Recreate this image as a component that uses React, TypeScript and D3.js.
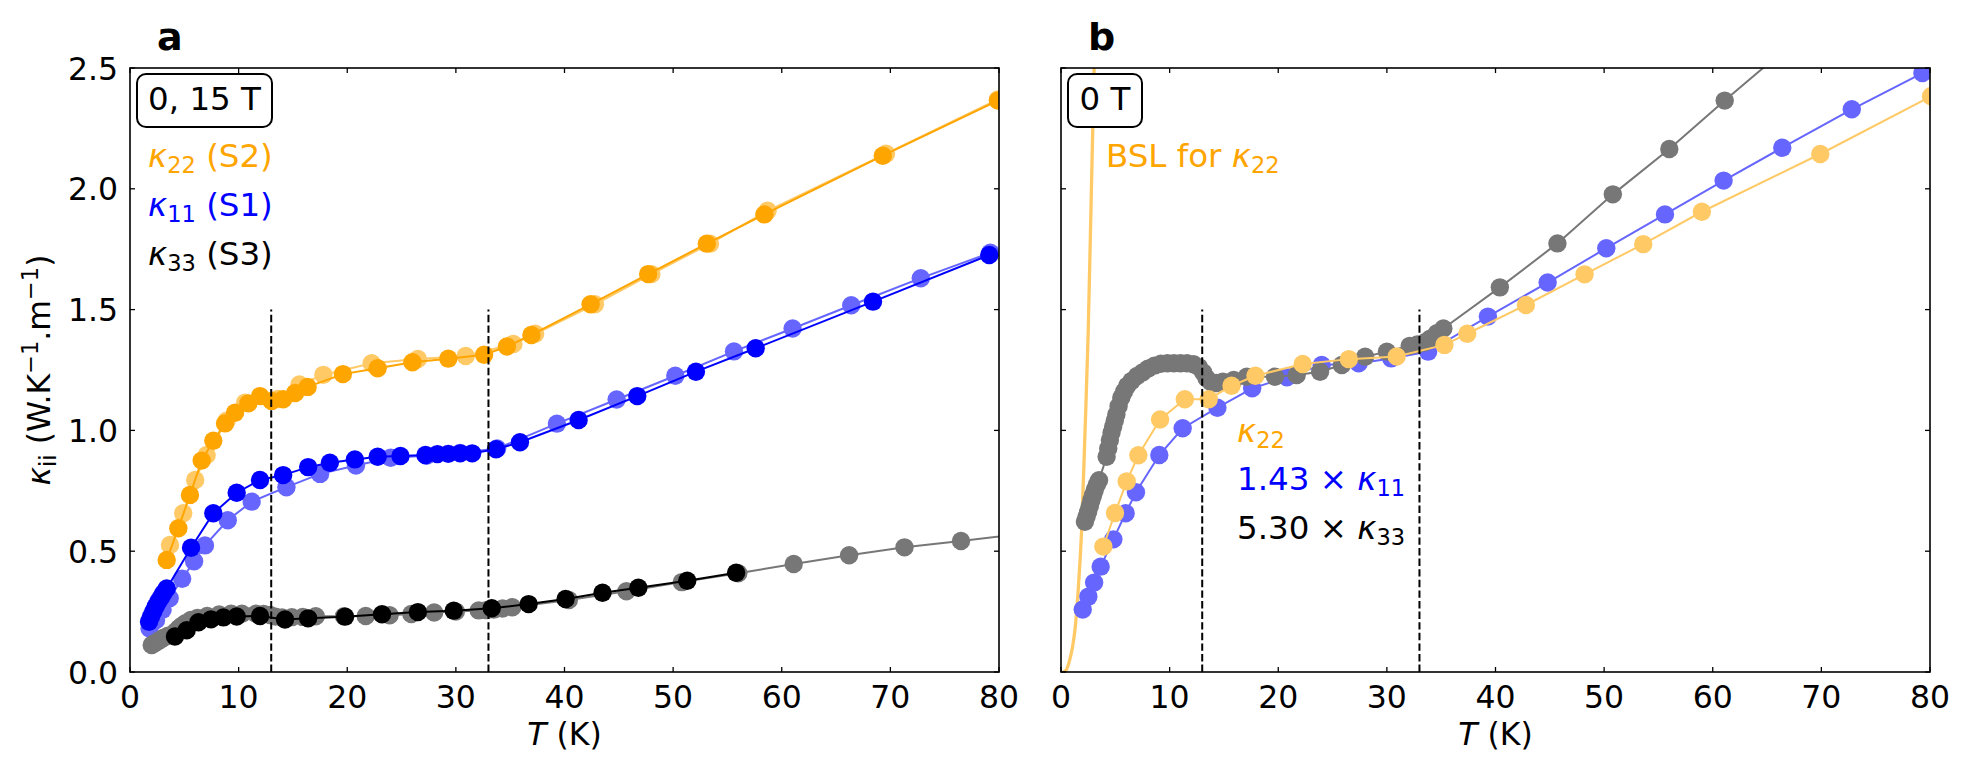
import React from "react";
import * as d3 from "d3";

// ---- panel a : 15 T (dark) and 0 T (light) ----
const a22_15T_T = [3.38, 4.45, 5.52, 6.6, 7.67, 8.75, 9.67, 10.9, 11.97, 13.04, 14.1, 15.2, 16.35, 19.6, 22.8, 26.0, 29.3, 32.6, 34.7, 36.95, 42.4, 47.7, 53.1, 58.4, 69.3, 79.9];
const a22_15T_k = [0.464, 0.595, 0.733, 0.875, 0.957, 1.029, 1.073, 1.112, 1.142, 1.122, 1.129, 1.155, 1.18, 1.233, 1.257, 1.282, 1.297, 1.313, 1.347, 1.395, 1.522, 1.647, 1.773, 1.894, 2.137, 2.365];

const a22_0T_T = [3.68, 4.9, 6.0, 7.06, 8.9, 10.6, 13.6, 15.6, 17.8, 22.25, 26.5, 30.9, 35.3, 37.3, 42.8, 48.0, 53.4, 58.7, 69.6, 79.9];
const a22_0T_k = [0.526, 0.657, 0.795, 0.898, 1.04, 1.115, 1.13, 1.19, 1.23, 1.278, 1.296, 1.308, 1.358, 1.4, 1.522, 1.647, 1.773, 1.909, 2.145, 2.37];

const a11_15T_T = [1.75, 1.93, 2.14, 2.35, 2.6, 2.85, 3.07, 3.38, 5.62, 7.67, 9.82, 11.97, 14.1, 16.4, 18.4, 20.7, 22.8, 24.9, 27.2, 28.3, 29.3, 30.4, 31.5, 33.7, 35.9, 41.3, 46.7, 52.1, 57.6, 68.4, 79.1];
const a11_15T_k = [0.208, 0.229, 0.249, 0.27, 0.291, 0.308, 0.326, 0.346, 0.514, 0.657, 0.742, 0.795, 0.815, 0.848, 0.866, 0.88, 0.891, 0.894, 0.898, 0.902, 0.903, 0.905, 0.905, 0.922, 0.951, 1.043, 1.142, 1.243, 1.34, 1.533, 1.726];

const a11_0T_T = [1.8, 2.4, 3.0, 3.65, 4.8, 5.9, 6.9, 9.0, 11.2, 14.4, 17.5, 20.8, 24.0, 27.3, 30.4, 33.8, 39.3, 44.8, 50.2, 55.6, 61.0, 66.4, 72.8, 79.2];
const a11_0T_k = [0.18, 0.215, 0.258, 0.305, 0.386, 0.458, 0.524, 0.628, 0.705, 0.765, 0.82, 0.855, 0.887, 0.895, 0.907, 0.925, 1.028, 1.128, 1.226, 1.327, 1.422, 1.518, 1.63, 1.735];

const a33_15T_T = [4.14, 5.22, 6.3, 7.46, 8.6, 9.82, 11.97, 14.27, 16.4, 19.8, 23.2, 26.5, 29.8, 33.3, 36.7, 40.1, 43.5, 46.8, 51.3, 55.8];
const a33_15T_k = [0.147, 0.173, 0.206, 0.218, 0.226, 0.23, 0.232, 0.217, 0.222, 0.229, 0.239, 0.248, 0.254, 0.264, 0.281, 0.302, 0.328, 0.349, 0.378, 0.411];

const a33_0T_T = [2.0, 2.2, 2.5, 2.8, 3.1, 3.5, 4.2, 4.5, 4.8, 5.1, 5.6, 6.2, 7.1, 8.2, 9.3, 10.3, 11.6, 12.3, 12.9, 13.4, 14.0, 14.9, 15.9, 17.1, 19.7, 21.7, 23.9, 25.9, 28.0, 30.0, 32.1, 32.8, 33.5, 34.3, 35.2, 40.4, 45.7, 50.8, 56.0, 61.1, 66.2, 71.3, 76.5, 81.6];
const a33_0T_k = [0.112, 0.117, 0.125, 0.134, 0.142, 0.15, 0.168, 0.181, 0.192, 0.202, 0.215, 0.224, 0.232, 0.238, 0.241, 0.241, 0.241, 0.24, 0.236, 0.229, 0.226, 0.227, 0.228, 0.231, 0.231, 0.232, 0.235, 0.24, 0.246, 0.25, 0.255, 0.256, 0.258, 0.263, 0.268, 0.298, 0.334, 0.372, 0.409, 0.447, 0.483, 0.516, 0.542, 0.57];

// ---- panel b : 0 T, scaled ----
const b22_T = [3.9, 4.97, 6.05, 7.12, 9.12, 11.4, 13.6, 15.7, 17.9, 22.25, 26.5, 30.9, 35.3, 37.4, 42.8, 48.2, 53.6, 59.0, 69.9, 80.1];
const b22_k = [0.519, 0.658, 0.789, 0.897, 1.045, 1.129, 1.129, 1.185, 1.226, 1.275, 1.295, 1.306, 1.354, 1.4, 1.519, 1.646, 1.771, 1.905, 2.144, 2.383];

const b11_T = [2.0, 2.52, 3.05, 3.65, 4.82, 5.95, 6.9, 9.05, 11.2, 14.4, 17.6, 20.8, 24.0, 27.4, 30.4, 33.8, 39.3, 44.8, 50.2, 55.6, 61.0, 66.4, 72.8, 79.3];
const b11_k = [0.259, 0.312, 0.37, 0.436, 0.549, 0.657, 0.744, 0.898, 1.009, 1.094, 1.174, 1.22, 1.271, 1.278, 1.298, 1.326, 1.471, 1.612, 1.754, 1.894, 2.034, 2.17, 2.329, 2.479];

const b33_T = [2.2, 2.35, 2.5, 2.65, 2.8, 2.95, 3.1, 3.3, 3.5, 4.2, 4.35, 4.5, 4.65, 4.8, 4.95, 5.1, 5.3, 5.55, 5.8, 6.1, 6.5, 7.0, 7.5, 8.0, 8.6, 9.2, 9.8, 10.4, 11.0, 11.6, 12.2, 12.7, 13.1, 13.4, 13.8, 14.3, 14.9, 15.9, 17.1, 19.7, 21.7, 23.85, 25.85, 28.0, 30.0, 32.1, 32.8, 33.5, 34.0, 34.6, 35.2, 40.4, 45.7, 50.8, 56.0, 61.1, 66.2];
const b33_k = [0.622, 0.643, 0.663, 0.687, 0.711, 0.732, 0.753, 0.775, 0.794, 0.891, 0.925, 0.96, 0.99, 1.015, 1.04, 1.066, 1.1, 1.135, 1.16, 1.185, 1.205, 1.225, 1.24, 1.255, 1.268, 1.276, 1.278, 1.278, 1.278, 1.278, 1.274, 1.262, 1.24, 1.216, 1.2, 1.196, 1.202, 1.209, 1.222, 1.222, 1.229, 1.243, 1.271, 1.305, 1.326, 1.35, 1.356, 1.365, 1.38, 1.402, 1.422, 1.592, 1.774, 1.977, 2.165, 2.365, 2.56];

const bsl_T = [0.2, 0.5, 0.8, 1.05, 1.3, 1.6, 1.9, 2.2, 2.5, 2.8, 3.1];
const bsl_k = [0, 0.01, 0.05, 0.1, 0.18, 0.35, 0.59, 0.98, 1.4, 2.0, 2.6];

const guides = [13, 33];
const xTicks = [0, 10, 20, 30, 40, 50, 60, 70, 80];
const yTicks = [0, 0.5, 1.0, 1.5, 2.0, 2.5];

const ORANGE = "#ffa500", ORANGE_L = "#ffc966";
const BLUE = "#0000ff", BLUE_L = "#6666ff";
const BLACK = "#000000", GREY = "#777777";

const W = 1972, H = 779;
const TOP = 68, BOT = 672;
const FONT = "'DejaVu Sans', sans-serif";
const FS = 31.5;   // tick + axis labels
const FA = 32.5;   // annotations
const SUB = 22.5;

const Series = ({ T, k, color, x, y, r = 9.2, lw = 2 }: any) => {
  const pts: [number, number][] = T.map((t: number, i: number) => [t, k[i]]);
  const line = d3.line<[number, number]>().x(d => x(d[0])).y(d => y(d[1]));
  return (
    <g>
      <path d={line(pts) || ""} fill="none" stroke={color} strokeWidth={lw} />
      {pts.map((p, i) => <circle key={i} cx={x(p[0])} cy={y(p[1])} r={r} fill={color} />)}
    </g>
  );
};

const Frame = ({ x, y, left, right, showY }: any) => {
  const tl = 5;
  return (
    <g>
      {xTicks.map(t => (
        <g key={"x" + t}>
          <line x1={x(t)} x2={x(t)} y1={BOT} y2={BOT - tl} stroke="#000" strokeWidth={1.3} />
          <line x1={x(t)} x2={x(t)} y1={TOP} y2={TOP + tl} stroke="#000" strokeWidth={1.3} />
          <text x={x(t)} y={708} textAnchor="middle" fontSize={FS} fontFamily={FONT}>{t}</text>
        </g>
      ))}
      {yTicks.map(t => (
        <g key={"y" + t}>
          <line x1={left} x2={left + tl} y1={y(t)} y2={y(t)} stroke="#000" strokeWidth={1.3} />
          <line x1={right} x2={right - tl} y1={y(t)} y2={y(t)} stroke="#000" strokeWidth={1.3} />
          {showY && <text x={118} y={y(t) + 11.5} textAnchor="end" fontSize={FS} fontFamily={FONT}>{d3.format(".1f")(t)}</text>}
        </g>
      ))}
      <rect x={left} y={TOP} width={right - left} height={BOT - TOP} fill="none" stroke="#000" strokeWidth={1.6} />
      <text x={(left + right) / 2} y={745} textAnchor="middle" fontSize={FS} fontFamily={FONT} style={{ whiteSpace: "pre" }}>
        <tspan fontStyle="italic">T</tspan> (K)
      </text>
    </g>
  );
};

const Kappa = ({ sub }: { sub: string }) => (
  <>
    <tspan fontStyle="italic">κ</tspan>
    <tspan fontSize={SUB} dy={6}>{sub}</tspan>
  </>
);

const App = () => {
  const panels = [
    { left: 130, right: 999 },
    { left: 1061, right: 1930 },
  ];
  const y = d3.scaleLinear().domain([0, 2.5]).range([BOT, TOP]);
  const xa = d3.scaleLinear().domain([0, 80]).range([panels[0].left, panels[0].right]);
  const xb = d3.scaleLinear().domain([0, 80]).range([panels[1].left, panels[1].right]);
  const bslLine = d3.line<[number, number]>().x(d => xb(d[0])).y(d => y(d[1])).curve(d3.curveMonotoneX);
  const bslPts: [number, number][] = bsl_T.map((t, i) => [t, bsl_k[i]]);

  const dashed = (x: any) => guides.map(g => (
    <line key={g} x1={x(g)} x2={x(g)} y1={y(0)} y2={y(1.5)} stroke="#000" strokeWidth={2} strokeDasharray="7.4 3.2" />
  ));

  return (
    <svg width={W} height={H} style={{ position: "absolute", left: 0, top: 0, background: "#fff" }} fontFamily={FONT}>
      <defs>
        {panels.map((p, i) => (
          <clipPath id={"clip" + i} key={i}>
            <rect x={p.left} y={TOP} width={p.right - p.left} height={BOT - TOP} />
          </clipPath>
        ))}
      </defs>

      {/* panel a */}
      <g clipPath="url(#clip0)">
        <Series T={a22_0T_T} k={a22_0T_k} color={ORANGE_L} x={xa} y={y} />
        <Series T={a22_15T_T} k={a22_15T_k} color={ORANGE} x={xa} y={y} />
        <Series T={a11_0T_T} k={a11_0T_k} color={BLUE_L} x={xa} y={y} />
        <Series T={a11_15T_T} k={a11_15T_k} color={BLUE} x={xa} y={y} />
        <Series T={a33_0T_T} k={a33_0T_k} color={GREY} x={xa} y={y} />
        <Series T={a33_15T_T} k={a33_15T_k} color={BLACK} x={xa} y={y} />
        {dashed(xa)}
      </g>
      <Frame x={xa} y={y} left={panels[0].left} right={panels[0].right} showY={true} />

      {/* panel b */}
      <g clipPath="url(#clip1)">
        <path d={bslLine(bslPts) || ""} fill="none" stroke={ORANGE_L} strokeWidth={3.3} />
        <Series T={b11_T} k={b11_k} color={BLUE_L} x={xb} y={y} />
        <Series T={b33_T} k={b33_k} color={GREY} x={xb} y={y} />
        <Series T={b22_T} k={b22_k} color={ORANGE_L} x={xb} y={y} />
        {dashed(xb)}
      </g>
      <Frame x={xb} y={y} left={panels[1].left} right={panels[1].right} showY={false} />

      {/* y label */}
      <text transform={`translate(50,${(TOP + BOT) / 2}) rotate(-90)`} textAnchor="middle" fontSize={FS} style={{ whiteSpace: "pre" }}>
        <tspan fontStyle="italic">κ</tspan>
        <tspan fontSize={SUB} dy={6}>ii</tspan>
        <tspan dy={-6}> (W.K</tspan>
        <tspan fontSize={SUB} dy={-12}>−1</tspan>
        <tspan dy={12}>.m</tspan>
        <tspan fontSize={SUB} dy={-12}>−1</tspan>
        <tspan dy={12}>)</tspan>
      </text>

      {/* panel letters */}
      <text x={157} y={50} fontSize={38} fontWeight="bold">a</text>
      <text x={1088} y={50} fontSize={38} fontWeight="bold">b</text>

      {/* panel a annotations */}
      <rect x={137} y={74} width={135} height={53} rx={9} fill="#fff" stroke="#000" strokeWidth={2} />
      <text x={204.5} y={110} textAnchor="middle" fontSize={FA} style={{ whiteSpace: "pre" }}>0, 15 T</text>
      <text x={148} y={167} fontSize={FA} fill={ORANGE} style={{ whiteSpace: "pre" }}>
        <Kappa sub="22" /><tspan dy={-6}> (S2)</tspan>
      </text>
      <text x={148} y={216} fontSize={FA} fill={BLUE} style={{ whiteSpace: "pre" }}>
        <Kappa sub="11" /><tspan dy={-6}> (S1)</tspan>
      </text>
      <text x={148} y={265} fontSize={FA} fill={BLACK} style={{ whiteSpace: "pre" }}>
        <Kappa sub="33" /><tspan dy={-6}> (S3)</tspan>
      </text>

      {/* panel b annotations */}
      <rect x={1068} y={74} width={74} height={53} rx={9} fill="#fff" stroke="#000" strokeWidth={2} />
      <text x={1105} y={110} textAnchor="middle" fontSize={FA} style={{ whiteSpace: "pre" }}>0 T</text>
      <text x={1106} y={167} fontSize={FA} fill={ORANGE} style={{ whiteSpace: "pre" }}>
        BSL for <Kappa sub="22" />
      </text>
      <text x={1237} y={442} fontSize={FA} fill={ORANGE} style={{ whiteSpace: "pre" }}>
        <Kappa sub="22" />
      </text>
      <text x={1237} y={490} fontSize={FA} fill={BLUE} style={{ whiteSpace: "pre" }}>
        1.43 × <Kappa sub="11" />
      </text>
      <text x={1237} y={539} fontSize={FA} fill={BLACK} style={{ whiteSpace: "pre" }}>
        5.30 × <Kappa sub="33" />
      </text>
    </svg>
  );
};

export default App;
